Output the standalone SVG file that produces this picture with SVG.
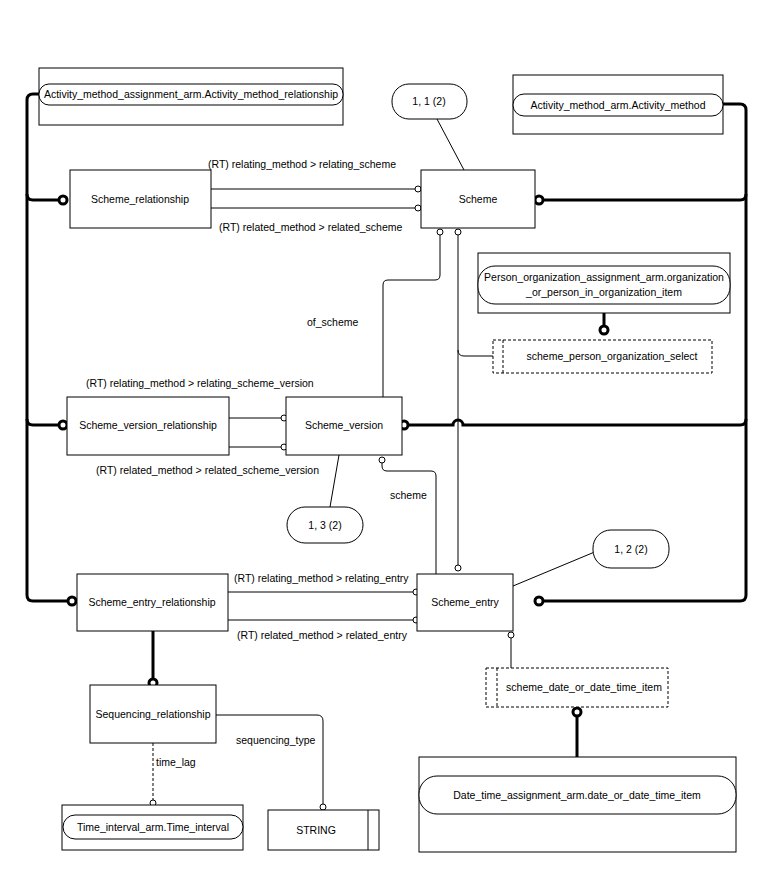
<svg xmlns="http://www.w3.org/2000/svg" width="757" height="870" viewBox="0 0 757 870">
<style>
text{font-family:"Liberation Sans",Arial,sans-serif;font-size:10.5px;fill:#000}
.b{fill:#fff;stroke:#000;stroke-width:1}
.d{fill:#fff;stroke:#000;stroke-width:1;stroke-dasharray:3,2}
.l{fill:none;stroke:#000;stroke-width:1}
.t{fill:none;stroke:#000;stroke-width:3}
.c{fill:#fff;stroke:#000;stroke-width:1}
.tc{fill:#fff;stroke:#000;stroke-width:3}
</style>
<rect width="757" height="870" fill="#fff"/>
<g id="connectors">
<path class="t" d="M39,94 H33 Q27,94 27,100 V595 Q27,601 33,601 H68"/>
<path class="t" d="M27,194 Q27,200 33,200 H59"/>
<path class="t" d="M27,419 Q27,425 33,425 H59"/>
<path class="t" d="M723,104 H740 Q746,104 746,110 V595 Q746,601 740,601 H543"/>
<path class="t" d="M746,194 Q746,200 740,200 H543"/>
<path class="t" d="M746,419 Q746,425 740,425 H463 A5,5 0 0 0 453,425 H408"/>
<circle class="tc" cx="63" cy="200" r="4"/>
<circle class="tc" cx="63" cy="425" r="4"/>
<circle class="tc" cx="72" cy="601" r="4"/>
<circle class="tc" cx="539" cy="200" r="4"/>
<circle class="tc" cx="404" cy="425" r="4"/>
<circle class="tc" cx="539" cy="601" r="4"/>
<path class="l" d="M211,189 H415 M211,208 H415"/>
<circle class="c" cx="418" cy="189" r="3"/><circle class="c" cx="418" cy="208" r="3"/>
<path class="l" d="M437,119 L464,170"/>
<path class="l" d="M440,235 V275 Q440,280 435,280 H388 Q383,280 383,285 V397"/>
<circle class="c" cx="440" cy="232" r="3"/>
<path class="l" d="M458,235 V565"/>
<circle class="c" cx="458" cy="232" r="3"/>
<circle class="c" cx="458" cy="568" r="3"/>
<path class="l" d="M458,350 Q458,356 464,356 H493"/>
<path class="t" d="M604,313 V326"/>
<circle class="tc" cx="604" cy="330" r="4"/>
<path class="l" d="M229,418 H281 M229,447 H281"/>
<circle class="c" cx="284" cy="418" r="3"/><circle class="c" cx="284" cy="447" r="3"/>
<path class="l" d="M339,455 L330,507"/>
<circle class="c" cx="382" cy="460" r="3"/>
<path class="l" d="M382,463 V466 Q382,471 387,471 H431 Q436,471 436,476 V574"/>
<path class="l" d="M228,592 H413 M228,620 H413"/>
<circle class="c" cx="416" cy="592" r="3"/><circle class="c" cx="416" cy="620" r="3"/>
<path class="l" d="M513,586 L597,551"/>
<circle class="c" cx="511" cy="635" r="3"/>
<path class="l" d="M511,638 V668"/>
<path class="t" d="M577,716 V757"/>
<circle class="tc" cx="577" cy="712" r="4"/>
<path class="t" d="M153,631 V679"/>
<circle class="tc" cx="153" cy="683" r="4"/>
<path class="l" d="M153,743 V800" stroke-dasharray="3,2"/>
<circle class="c" cx="153" cy="803" r="3"/>
<path class="l" d="M216,715 H317 Q323,715 323,721 V804"/>
<circle class="c" cx="323" cy="807" r="3"/>
<text x="208" y="168">(RT) relating_method &gt; relating_scheme</text>
<text x="219" y="231">(RT) related_method &gt; related_scheme</text>
<text x="307" y="326">of_scheme</text>
<text x="86" y="387">(RT) relating_method &gt; relating_scheme_version</text>
<text x="96" y="474">(RT) related_method &gt; related_scheme_version</text>
<text x="390" y="499">scheme</text>
<text x="234" y="582">(RT) relating_method &gt; relating_entry</text>
<text x="237" y="639">(RT) related_method &gt; related_entry</text>
<text x="236" y="744">sequencing_type</text>
<text x="156" y="766">time_lag</text>
</g>
<g id="amar"><rect class="b" x="39" y="68" width="304" height="57"/><rect class="b" x="39" y="84" width="304" height="21" rx="10"/><text x="191" y="98" text-anchor="middle">Activity_method_assignment_arm.Activity_method_relationship</text></g>
<g id="n11"><rect class="b" x="392" y="84" width="75" height="35" rx="17"/><text x="429" y="105" text-anchor="middle">1, 1 (2)</text></g>
<g id="am"><rect class="b" x="513" y="75" width="210" height="59"/><rect class="b" x="513" y="94" width="210" height="22" rx="11"/><text x="618" y="109" text-anchor="middle">Activity_method_arm.Activity_method</text></g>
<g id="sr"><rect class="b" x="70" y="170" width="141" height="58"/><text x="140" y="203" text-anchor="middle">Scheme_relationship</text></g>
<g id="scheme"><rect class="b" x="421" y="170" width="114" height="58"/><text x="478" y="203" text-anchor="middle">Scheme</text></g>
<g id="poa"><rect class="b" x="478" y="253" width="252" height="60"/><rect class="b" x="478" y="266" width="252" height="38" rx="17"/><text x="604" y="281" text-anchor="middle">Person_organization_assignment_arm.organization</text><text x="604" y="296" text-anchor="middle">_or_person_in_organization_item</text></g>
<g id="spos"><rect class="d" x="493" y="340" width="219" height="33"/><path class="l" d="M503,340 V373" stroke-dasharray="3,2"/><text x="612" y="360" text-anchor="middle">scheme_person_organization_select</text></g>
<g id="svr"><rect class="b" x="67" y="397" width="162" height="58"/><text x="148" y="429" text-anchor="middle">Scheme_version_relationship</text></g>
<g id="sv"><rect class="b" x="286" y="397" width="116" height="58"/><text x="344" y="429" text-anchor="middle">Scheme_version</text></g>
<g id="n13"><rect class="b" x="287" y="507" width="76" height="36" rx="18"/><text x="325" y="529" text-anchor="middle">1, 3 (2)</text></g>
<g id="n12"><rect class="b" x="593" y="530" width="76" height="38" rx="18"/><text x="631" y="553" text-anchor="middle">1, 2 (2)</text></g>
<g id="ser"><rect class="b" x="77" y="574" width="151" height="57"/><text x="152" y="606" text-anchor="middle">Scheme_entry_relationship</text></g>
<g id="se"><rect class="b" x="417" y="574" width="96" height="57"/><text x="465" y="606" text-anchor="middle">Scheme_entry</text></g>
<g id="sdt"><rect class="d" x="486" y="668" width="182" height="39"/><path class="l" d="M497,668 V707" stroke-dasharray="3,2"/><text x="584" y="691" text-anchor="middle">scheme_date_or_date_time_item</text></g>
<g id="seq"><rect class="b" x="90" y="685" width="126" height="58"/><text x="153" y="718" text-anchor="middle">Sequencing_relationship</text></g>
<g id="ti"><rect class="b" x="62" y="805" width="181" height="45"/><rect class="b" x="63" y="815" width="180" height="24" rx="12"/><text x="153" y="831" text-anchor="middle">Time_interval_arm.Time_interval</text></g>
<g id="str"><rect class="b" x="268" y="810" width="111" height="40"/><path class="l" d="M368,810 V850"/><text x="316" y="834" text-anchor="middle">STRING</text></g>
<g id="dt"><rect class="b" x="419" y="757" width="317" height="95"/><rect class="b" x="419" y="776" width="317" height="38" rx="18"/><text x="577" y="799" text-anchor="middle">Date_time_assignment_arm.date_or_date_time_item</text></g>
</svg>
